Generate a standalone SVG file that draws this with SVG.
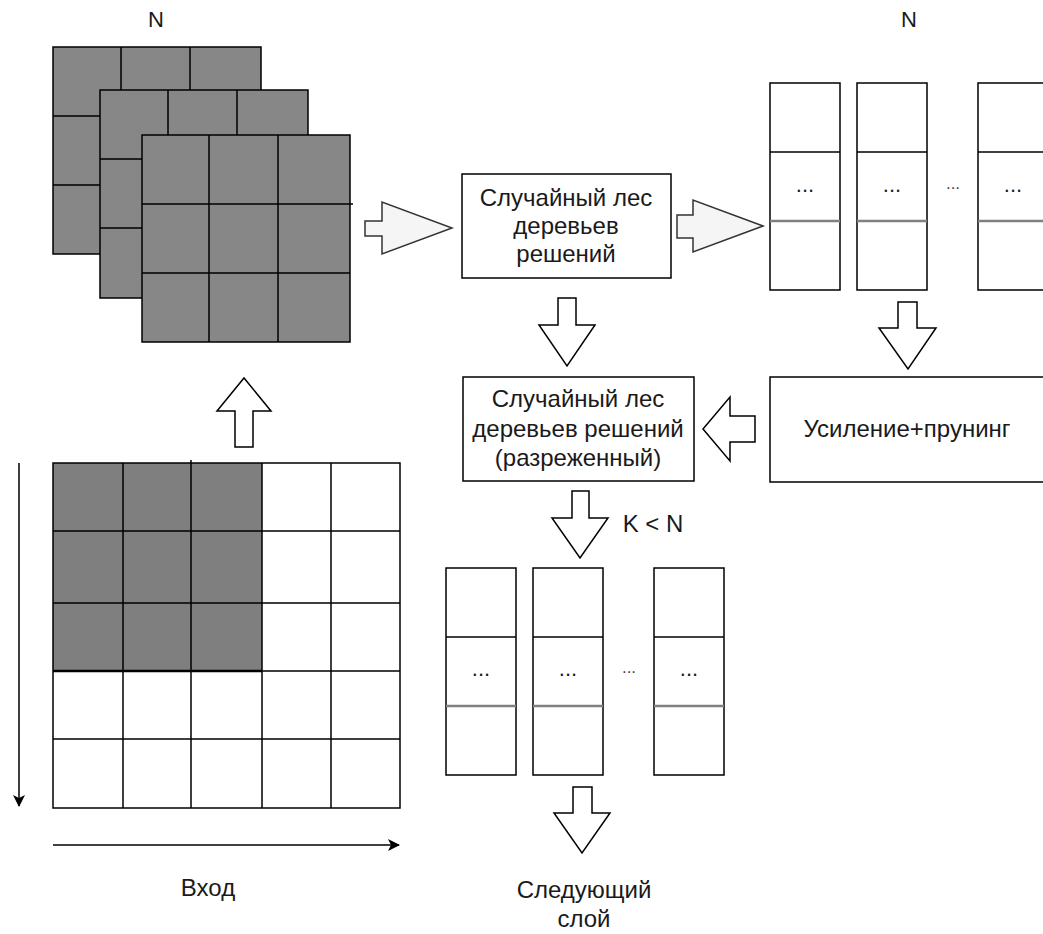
<svg xmlns="http://www.w3.org/2000/svg" width="1043" height="934" viewBox="0 0 1043 934">
<defs>
<style>
.g{fill:#878787;stroke:#000;stroke-width:1.5}
.gd{fill:#7f7f7f;stroke:none}
.ln{stroke:#000;stroke-width:1.5;fill:none}
.box{fill:#fff;stroke:#000;stroke-width:1.5}
.div2{stroke:#808080;stroke-width:2.5}
.ba{fill:#fff;stroke:#000;stroke-width:1.5;stroke-linejoin:miter}
.bh{fill:#f5f5f5;stroke:#333;stroke-width:1.5}
.t{font-family:"Liberation Sans",Arial,sans-serif;font-size:24px;fill:#1a1a1a;text-anchor:middle}
.n{font-family:"Liberation Sans",Arial,sans-serif;font-size:22px;fill:#1a1a1a;text-anchor:middle}
.d{font-family:"Liberation Sans",Arial,sans-serif;font-size:22px;fill:#1a1a1a;text-anchor:middle}
.ds{font-family:"Liberation Sans",Arial,sans-serif;font-size:17px;fill:#444;text-anchor:middle}
</style>
<marker id="ah" viewBox="0 0 12 12" refX="11" refY="6" markerWidth="12" markerHeight="12" orient="auto" markerUnits="userSpaceOnUse">
<path d="M0,0 L12,6 L0,12 L3,6 z" fill="#000"/>
</marker>
</defs>

<g id="label-n1"><text class="n" x="156" y="27">N</text></g>
<g id="label-n2"><text class="n" x="909" y="27">N</text></g>

<g id="stack-back">
<rect class="g" x="53" y="47" width="208" height="207"/>
<path class="ln" d="M121,47V254M190,47V254M53,116H261M53,185H261"/>
</g>
<g id="stack-mid">
<rect class="g" x="100" y="90" width="208" height="208"/>
<path class="ln" d="M168,90V298M237,90V298M100,159H308M100,228H308"/>
</g>
<g id="stack-front">
<rect class="g" x="142" y="135" width="208" height="207"/>
<path class="ln" d="M209,135V342M278,135V342M142,204H353M142,273H350"/>
</g>

<g id="input-grid">
<rect class="gd" x="53" y="463" width="209" height="208"/>
<rect x="53" y="463" width="347" height="345" fill="none" stroke="#000" stroke-width="1.5"/>
<path class="ln" d="M123,463V808M191,460V808M262,463V808M331,463V808M53,531H400M53,603H400M53,671H400M53,739H400"/>
<path d="M53,671H262" stroke="#000" stroke-width="2.5"/>
</g>
<g id="label-vhod"><text class="t" x="208" y="896">Вход</text></g>

<g id="forest1">
<rect class="box" x="462" y="174" width="209" height="104"/>
<text class="t" x="566" y="206">Случайный лес</text>
<text class="t" x="566" y="234">деревьев</text>
<text class="t" x="566" y="262">решений</text>
</g>

<g id="forest2">
<rect class="box" x="463" y="377" width="231" height="104"/>
<text class="t" x="578" y="407">Случайный лес</text>
<text class="t" x="578" y="437">деревьев решений</text>
<text class="t" x="578" y="466">(разреженный)</text>
</g>

<g id="boost">
<rect class="box" x="770" y="377" width="290" height="105"/>
<text class="t" x="907" y="437">Усиление+прунинг</text>
</g>

<g id="cols-top">
<rect class="box" x="770" y="83" width="70" height="207"/>
<path class="ln" d="M770,152H840"/><path class="div2" d="M770,221H840"/>
<text class="d" x="805" y="192">...</text>
<rect class="box" x="857" y="83" width="70" height="207"/>
<path class="ln" d="M857,152H927"/><path class="div2" d="M857,221H927"/>
<text class="d" x="892" y="192">...</text>
<text class="ds" x="953" y="189">...</text>
<rect class="box" x="978" y="83" width="80" height="207"/>
<path class="ln" d="M978,152H1050"/><path class="div2" d="M978,221H1050"/>
<text class="d" x="1013" y="192">...</text>
</g>

<g id="cols-bottom">
<rect class="box" x="446" y="568" width="70" height="207"/>
<path class="ln" d="M446,637H516"/><path class="div2" d="M446,706H516"/>
<text class="d" x="481" y="676">...</text>
<rect class="box" x="533" y="568" width="70" height="207"/>
<path class="ln" d="M533,637H603"/><path class="div2" d="M533,706H603"/>
<text class="d" x="568" y="676">...</text>
<text class="ds" x="629" y="673">...</text>
<rect class="box" x="654" y="568" width="70" height="207"/>
<path class="ln" d="M654,637H724"/><path class="div2" d="M654,706H724"/>
<text class="d" x="689" y="676">...</text>
</g>

<g id="label-kn"><text class="t" x="653" y="532">K &lt; N</text></g>
<g id="label-next">
<text class="t" x="584" y="898">Следующий</text>
<text class="t" x="584" y="927">слой</text>
</g>

<g id="connectors">
<path class="ln" d="M19,463V806" marker-end="url(#ah)"/>
<path class="ln" d="M53,845H399" marker-end="url(#ah)"/>
<path class="bh" d="M365,221H382V202L452,228L382,254V236H365Z"/>
<path class="bh" d="M677,215H693V200L763,226L693,252V238H677Z"/>
<path class="ba" d="M558,298H576V325H595L567,366L539,325H558Z"/>
<path class="ba" d="M898,302H917V328H936L908,369L879,328H898Z"/>
<path class="ba" d="M755,416V442H730V461L703,429L730,397V416Z"/>
<path class="ba" d="M235,447V411H217L244,378L271,411H253V447Z"/>
<path class="ba" d="M572,491H589V518H608L580,558L552,518H572Z"/>
<path class="ba" d="M573,787H592V813H610L582,853L554,813H573Z"/>
</g>
</svg>
